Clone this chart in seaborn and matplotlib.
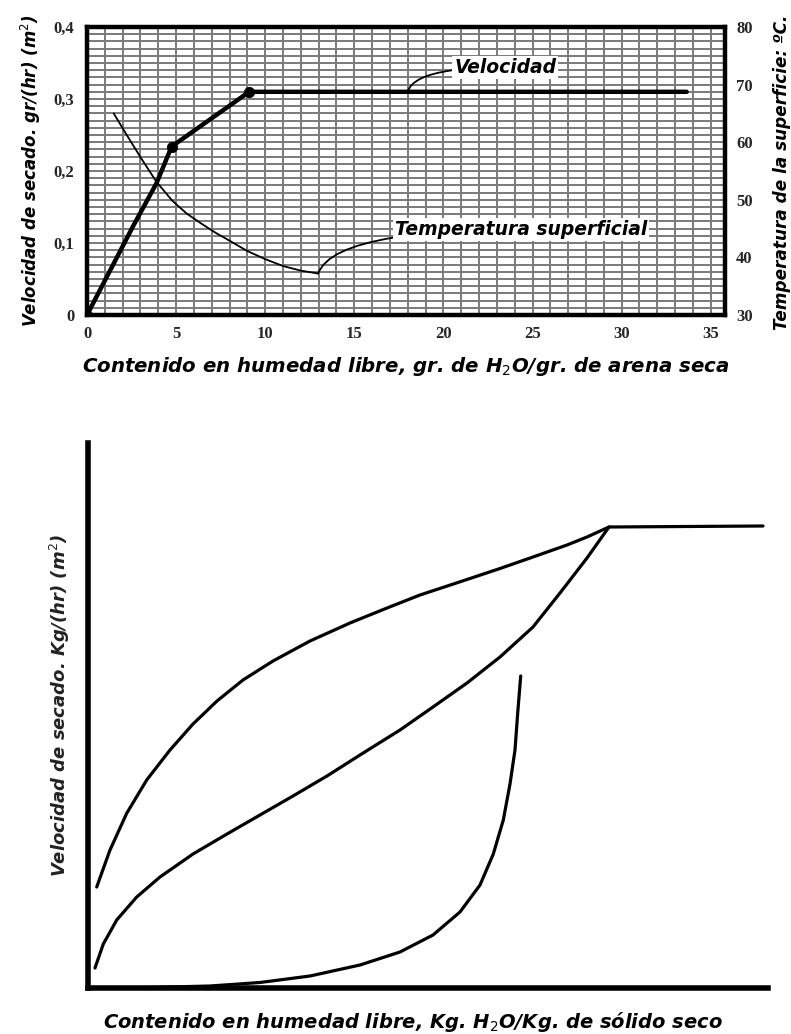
import numpy as np
import pandas as pd
import matplotlib
matplotlib.use("Agg")
import matplotlib.pyplot as plt
from matplotlib.font_manager import FontProperties
import seaborn as sns

# ---- top chart: drying rate and surface temperature of sand ----
vel_x = [0, 1.3, 2.6, 3.9, 4.75, 9.1, 33.65]
vel_y = [0, 0.062, 0.124, 0.183, 0.234, 0.31, 0.31]
vel_pts_x = [0, 4.75, 9.1]
vel_pts_y = [0, 0.234, 0.31]
temp_x = [1.5, 2.2, 3.0, 3.9, 4.8, 5.6, 6.4, 7.2, 8.0, 9.0, 10.0, 11.0, 12.0, 12.97]
temp_y = [65.0, 61.4, 57.4, 53.1, 49.8, 47.6, 45.9, 44.3, 42.9, 41.1, 39.7, 38.5, 37.7, 37.2]
x_ticks = [0, 5, 10, 15, 20, 25, 30, 35]
y_ticks = [0, 0.1, 0.2, 0.3, 0.4]
y_ticklabels = ["0", "0,1", "0,2", "0,3", "0,4"]
t_ticks = [30, 40, 50, 60, 70, 80]

# ---- bottom chart: schematic drying-rate curves (arbitrary units) ----
upper_x = [8.7, 22, 38.7, 58.7, 82, 105, 129, 155, 185, 222, 262, 299,
           332, 379, 412, 445, 479, 499, 521, 675]
upper_y = [101, 138, 174.7, 208, 238, 264, 287, 308, 327, 347, 365, 380,
           393, 408.5, 419.5, 431, 443, 451, 461, 462]
middle_x = [7, 15.3, 28.7, 48.7, 72, 105, 139, 172, 205, 239, 272, 312,
            345, 379, 412, 445, 472, 499, 521]
middle_y = [20, 44, 68, 91, 111, 134, 154, 173, 192, 212, 233, 258,
            281, 305, 331, 361, 395, 430, 461]
lower_x = [42, 122, 172, 222, 272, 312, 345, 372, 392, 405.3, 415.3, 422, 427, 429.7, 432.7]
lower_y = [0, 2, 5.5, 12, 23, 36, 53, 76, 103, 134, 168, 204, 238, 275, 312]

sns.set_theme(style="white")
plt.rcParams['font.family'] = ['DejaVu Sans']

fig = plt.figure(figsize=(7.91, 10.34), dpi=100)
W, H = 791, 1034
lab_font = dict(fontweight="bold", fontstyle="italic", color="black")
tick_font = FontProperties(family="Liberation Serif", weight="bold", size=12)

# top axes
ax = fig.add_axes([87 / W, 1 - 315 / H, 638 / W, 288 / H])
ax.set_xlim(0, 35.8)
ax.set_ylim(0, 0.4)
ax.set_xticks(x_ticks)
ax.set_xticks(np.arange(0, 36, 1), minor=True)
ax.set_yticks(y_ticks)
ax.set_yticks(np.arange(0, 0.4001, 0.01), minor=True)
ax.set_yticklabels(y_ticklabels)
ax.grid(which="both", color="#7a7a7a", lw=1.4)
ax.set_axisbelow(True)
for s in ax.spines.values():
    s.set_linewidth(3.2)
    s.set_color("black")
ax.tick_params(which="both", length=0)
ax.tick_params(axis="y", pad=9)
ax.tick_params(axis="x", pad=8)
for lab in ax.get_xticklabels() + ax.get_yticklabels():
    lab.set_fontproperties(tick_font)

vel = pd.DataFrame({"x": vel_x, "y": vel_y})
sns.lineplot(data=vel, x="x", y="y", ax=ax, sort=False, color="black", lw=3.2)
sns.scatterplot(x=vel_pts_x, y=vel_pts_y, ax=ax, color="black", s=55, edgecolor="black", zorder=5)
ax.set_xlabel("Contenido en humedad libre, gr. de H$_2$O/gr. de arena seca",
              fontsize=14.2, labelpad=9, **lab_font)
ax.set_ylabel("")

ax.annotate("Velocidad", xy=(18.0, 0.31), xytext=(20.6, 0.344),
            fontsize=13.5, va="center", ha="left", **lab_font,
            bbox=dict(boxstyle="square,pad=0.1", fc="white", ec="none"),
            arrowprops=dict(arrowstyle="-", color="black", lw=1.3,
                            connectionstyle="angle3,angleA=0,angleB=75",
                            shrinkA=0, shrinkB=0))

ax2 = ax.twinx()
ax2.set_ylim(30, 80)
ax2.set_yticks(t_ticks)
ax2.tick_params(length=0, pad=8)
ax2.grid(False)
for s in ax2.spines.values():
    s.set_visible(False)
for lab in ax2.get_yticklabels():
    lab.set_fontproperties(tick_font)
temp = pd.DataFrame({"x": temp_x, "t": temp_y})
sns.lineplot(data=temp, x="x", y="t", ax=ax2, sort=False, color="black", lw=1.3)
ax2.set_xlabel("")
ax2.set_ylabel("")
ax2.annotate("Temperatura superficial", xy=(12.97, 37.2), xytext=(17.3, 44.8),
             fontsize=13.5, va="center", ha="left", **lab_font,
             bbox=dict(boxstyle="square,pad=0.1", fc="white", ec="none"),
             arrowprops=dict(arrowstyle="-", color="black", lw=1.3,
                             connectionstyle="angle3,angleA=0,angleB=70",
                             shrinkA=0, shrinkB=0))
fig.text(31 / W, 1 - 171 / H, "Velocidad de secado. gr/(hr) (m$^2$)", rotation=90,
         ha="center", va="center", fontsize=12, **lab_font)
fig.text(782 / W, 1 - 172 / H, "Temperatura de la superficie: ºC.", rotation=90,
         ha="center", va="center", fontsize=12.2, **lab_font)

# bottom axes
bx = fig.add_axes([88 / W, 1 - 988 / H, 680 / W, 545 / H])
bx.set_xlim(0, 680)
bx.set_ylim(0, 545)
for xs, ys in [(upper_x, upper_y), (middle_x, middle_y), (lower_x, lower_y)]:
    sns.lineplot(x=xs, y=ys, ax=bx, sort=False, color="black", lw=2.3)
bx.set_xticks([])
bx.set_yticks([])
for side in ["top", "right"]:
    bx.spines[side].set_visible(False)
for side in ["left", "bottom"]:
    bx.spines[side].set_linewidth(4)
    bx.spines[side].set_color("black")
bx.set_xlabel("Contenido en humedad libre, Kg. H$_2$O/Kg. de sólido seco",
              fontsize=14, **lab_font)
bx.xaxis.set_label_coords(0.478, -0.041)
fig.text(60 / W, 1 - 705 / H, "Velocidad de secado. Kg/(hr) (m$^2$)", rotation=90,
         ha="center", va="center", fontsize=13, fontweight="bold", fontstyle="italic",
         color="#222222")

fig.savefig("out.png", dpi=100)
